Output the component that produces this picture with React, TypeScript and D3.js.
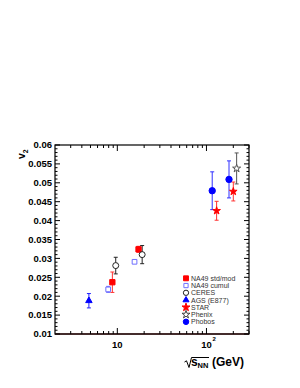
import React from "react";
import * as d3 from "d3";

// ---- data ----
const na49StdX = [8.8, 17.3];
const na49StdY = [0.0237, 0.0324];
const na49StdE = [0.0027, 0.0008];

const na49CumX = [7.9, 15.6];
const na49CumY = [0.0218, 0.0291];
const na49CumE = [0.0008, 0.0004];

const ceresX = [9.6, 19.0];
const ceresY = [0.0281, 0.031];
const ceresE = [0.0022, 0.0024];

const agsX = [4.8];
const agsY = [0.0188];
const agsE = [0.0019];

const starX = [130, 200];
const starY = [0.0426, 0.0477];
const starE = [0.0025, 0.0025];

const phenixX = [218];
const phenixY = [0.0538];
const phenixE = [0.0041];

const phobosX = [116, 179];
const phobosY = [0.0479, 0.0509];
const phobosE = [0.005, 0.0049];

const yTickLabels = ["0.01", "0.015", "0.02", "0.025", "0.03", "0.035", "0.04", "0.045", "0.05", "0.055", "0.06"];
const xMinorTicks = [3, 4, 5, 6, 7, 8, 9, 20, 30, 40, 50, 60, 70, 80, 90, 200, 300];
const xMajorTicks = [10, 100];
const legendLabels = ["NA49 std/mod", "NA49 cumul", "CERES", "AGS (E877)", "STAR", "Phenix", "Phobos"];

const FONT = "Liberation Sans, Arial, Helvetica, sans-serif";

export default function App() {
  const L = 55, R = 249, T = 145, B = 334;
  const x = d3.scaleLog().domain([2, 300]).range([L, R]);
  const y = d3.scaleLinear().domain([0.01, 0.06]).range([B, T]);

  const sym = (type: any, size: number) => d3.symbol().type(type).size(size)() as string;

  const errBars = (xs: number[], ys: number[], es: number[], color: string, key: string) =>
    xs.map((xv, i) => {
      const cx = x(xv);
      const y1 = y(ys[i] + es[i]);
      const y2 = y(ys[i] - es[i]);
      return (
        <g key={key + i} stroke={color} strokeWidth={1} fill="none">
          <line x1={cx} x2={cx} y1={y1} y2={y2} />
          <line x1={cx - 2} x2={cx + 2} y1={y1} y2={y1} />
          <line x1={cx - 2} x2={cx + 2} y1={y2} y2={y2} />
        </g>
      );
    });

  const marks = (xs: number[], ys: number[], d: string, fill: string, stroke: string, key: string, sw = 1) =>
    xs.map((xv, i) => (
      <path key={key + i} d={d} transform={`translate(${x(xv)},${y(ys[i])})`} fill={fill} stroke={stroke} strokeWidth={sw} />
    ));

  const yMinor = d3.range(10, 61).map((v) => v / 1000);
  const yMajorVals = yTickLabels.map((s) => +s);

  const legendSyms = [
    { d: sym(d3.symbolSquare, 24), fill: "#ff0000", stroke: "#ff0000" },
    { d: sym(d3.symbolSquare, 18), fill: "white", stroke: "#6f6fff" },
    { d: sym(d3.symbolCircle, 22), fill: "white", stroke: "#222" },
    { d: sym(d3.symbolTriangle, 16), fill: "#0000ff", stroke: "#0000ff" },
    { d: sym(d3.symbolStar, 20), fill: "#ff0000", stroke: "#ff0000" },
    { d: sym(d3.symbolStar, 20), fill: "white", stroke: "#444" },
    { d: sym(d3.symbolCircle, 24), fill: "#0000ff", stroke: "#0000ff" },
  ];

  return (
    <svg width={300} height={388} style={{ position: "absolute", left: 0, top: 0 }}>
      <rect width={300} height={388} fill="white" />
      {/* frame */}
      <g stroke="#000" fill="none">
        <rect x={L} y={T} width={R - L} height={B - T} strokeWidth={1.2} />
        <line x1={L} x2={R} y1={B} y2={B} stroke="#3a1a1a" strokeWidth={1.4} />
        {yMinor.map((v, i) => {
          const major = yMajorVals.some((m) => Math.abs(m - v) < 1e-9);
          const len = major ? 5 : 2.5;
          return (
            <g key={"yt" + i}>
              <line x1={L} x2={L + len} y1={y(v)} y2={y(v)} />
              <line x1={R} x2={R - len} y1={y(v)} y2={y(v)} />
            </g>
          );
        })}
        {xMinorTicks.map((v, i) => (
          <g key={"xm" + i}>
            <line x1={x(v)} x2={x(v)} y1={B} y2={B - 3} />
            <line x1={x(v)} x2={x(v)} y1={T} y2={T + 3} />
          </g>
        ))}
        {xMajorTicks.map((v, i) => (
          <g key={"xM" + i}>
            <line x1={x(v)} x2={x(v)} y1={B} y2={B - 6} />
            <line x1={x(v)} x2={x(v)} y1={T} y2={T + 6} />
          </g>
        ))}
      </g>
      {/* y labels */}
      <g fontFamily={FONT} fontWeight="bold" fontSize={9.5} textAnchor="end" fill="#000">
        {yTickLabels.map((s, i) => (
          <text key={"yl" + i} x={L - 3} y={y(+s)} dy="0.35em">
            {s}
          </text>
        ))}
      </g>
      {/* x labels */}
      <g fontFamily={FONT} fontWeight="bold" fontSize={9.5} fill="#000">
        <text x={x(10)} y={347.5} textAnchor="middle">10</text>
        <text x={x(100)} y={347.5} textAnchor="middle">10</text>
        <text x={x(100) + 6} y={341} fontSize={6}>2</text>
      </g>
      {/* axis titles */}
      <g fontFamily={FONT} fontWeight="bold" fill="#000">
        <text transform="translate(25,159) rotate(-90)" fontSize={10.5}>
          v<tspan fontSize={7} dy={2.5}>2</tspan>
        </text>
        <path d="M184.5,362 L186.5,360.8 L189,367.5 L191.5,357.5 L209,357.5" fill="none" stroke="#000" strokeWidth={1} />
        <text x={191} y={366} fontSize={12}>s</text>
        <text x={197.5} y={368} fontSize={7.5}>NN</text>
        <text x={212} y={366} fontSize={12}>(GeV)</text>
      </g>
      {/* error bars */}
      {errBars(agsX, agsY, agsE, "#2020ff", "ea")}
      {errBars(na49CumX, na49CumY, na49CumE, "#7070ff", "ec")}
      {errBars(na49StdX, na49StdY, na49StdE, "#ff3030", "es")}
      {errBars(ceresX, ceresY, ceresE, "#222", "ece")}
      {errBars(phobosX, phobosY, phobosE, "#3030ff", "ep")}
      {errBars(starX, starY, starE, "#ff3030", "est")}
      {errBars(phenixX, phenixY, phenixE, "#555", "eph")}
      {/* markers */}
      {marks(agsX, agsY, sym(d3.symbolTriangle, 18), "#0000ff", "#0000ff", "ma")}
      {marks(na49CumX, na49CumY, sym(d3.symbolSquare, 22), "white", "#6f6fff", "mc")}
      {marks(na49StdX, na49StdY, sym(d3.symbolSquare, 28), "#ff0000", "#ff0000", "ms")}
      {marks(ceresX, ceresY, sym(d3.symbolCircle, 28), "white", "#222", "mce")}
      {marks(phobosX, phobosY, sym(d3.symbolCircle, 32), "#0000ff", "#0000ff", "mp")}
      {marks(starX, starY, sym(d3.symbolStar, 18), "#ff0000", "#ff0000", "mst")}
      {marks(phenixX, phenixY, sym(d3.symbolStar, 20), "white", "#555", "mph")}
      {/* legend */}
      <g fontFamily={FONT} fontSize={7} fill="#333">
        {legendLabels.map((s, i) => {
          const cy = 278.3 + i * 7.25;
          const ls = legendSyms[i];
          return (
            <g key={"lg" + i}>
              <path d={ls.d} transform={`translate(186,${cy})`} fill={ls.fill} stroke={ls.stroke} strokeWidth={1} />
              <text x={191} y={cy} dy="0.35em">{s}</text>
            </g>
          );
        })}
      </g>
    </svg>
  );
}
